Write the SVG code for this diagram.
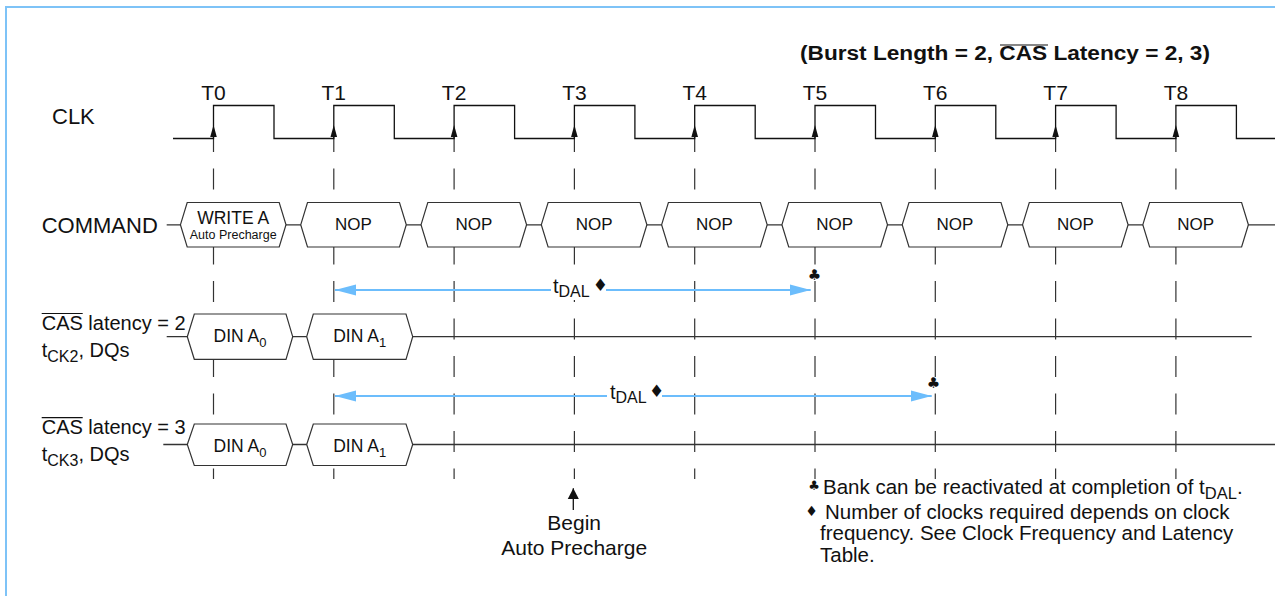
<svg xmlns="http://www.w3.org/2000/svg" width="1275" height="596" viewBox="0 0 1275 596">
<style>
text { font-family: "Liberation Sans", Arial, Helvetica, sans-serif; fill: #111; }
.lbl { font-size: 22px; }
.tl { font-size: 21px; text-anchor: middle; }
.cmd { font-size: 17px; text-anchor: middle; }
.din { font-size: 17.5px; text-anchor: middle; }
.row { font-size: 20px; }
.note { font-size: 20.5px; }
.sym { font-family: "DejaVu Sans", sans-serif; text-anchor: middle; }
.box { fill: #fff; stroke: #333; stroke-width: 1.2; }
.sig { fill: none; stroke: #333; stroke-width: 1.3; }
.clk { fill: none; stroke: #111; stroke-width: 1.3; }
.grid { stroke: #333; stroke-width: 1.2; stroke-dasharray: 21 16.5; }
.blue { fill: none; stroke: #6cbdfc; stroke-width: 2; marker-start: url(#ab); marker-end: url(#ab); }
.ovl { stroke: #111; stroke-width: 1.2; }
.wbg { fill: #fff; }
</style>
<defs>
<marker id="ab" markerUnits="userSpaceOnUse" viewBox="0 0 22 12" markerWidth="22" markerHeight="12" refX="21" refY="6" orient="auto-start-reverse">
<path d="M0,0.5 L21,6 L0,11.5 Z" fill="#6cbdfc"/>
</marker>
<marker id="ak" markerUnits="userSpaceOnUse" viewBox="0 0 12 12" markerWidth="12" markerHeight="12" refX="11" refY="6" orient="auto">
<path d="M0,0.3 L11,6 L0,11.7 Z" fill="#111"/>
</marker>
<path id="ca" d="M0,0 L-3.3,12 L3.3,12 Z" fill="#111"/>
</defs>

<rect id="frame" x="6" y="7" width="1300" height="620" fill="none" stroke="#7ec3f7" stroke-width="2"/>

<g id="title">
<text x="800" y="60" font-size="20" font-weight="bold" textLength="410" lengthAdjust="spacingAndGlyphs">(Burst Length = 2, CAS Latency = 2, 3)</text>
<line class="ovl" x1="1000" y1="45" x2="1048" y2="45" stroke-width="1.6"/>
</g>

<g id="grid">
<line class="grid" x1="213.5" y1="131" x2="213.5" y2="479"/>
<line class="grid" x1="333.8" y1="131" x2="333.8" y2="479"/>
<line class="grid" x1="454.1" y1="131" x2="454.1" y2="479"/>
<line class="grid" x1="574.4" y1="131" x2="574.4" y2="479"/>
<line class="grid" x1="694.7" y1="131" x2="694.7" y2="479"/>
<line class="grid" x1="815" y1="131" x2="815" y2="479"/>
<line class="grid" x1="935.3" y1="131" x2="935.3" y2="479"/>
<line class="grid" x1="1055.6" y1="131" x2="1055.6" y2="479"/>
<line class="grid" x1="1175.9" y1="131" x2="1175.9" y2="479"/>
</g>

<g id="clock">
<text class="lbl" x="52" y="124">CLK</text>
<path class="clk" d="M173,138.5 H213.5 V105.5 H274 V138.5 H333.8 V105.5 H394.3 V138.5 H454.1 V105.5 H514.6 V138.5 H574.4 V105.5 H634.9 V138.5 H694.7 V105.5 H755.2 V138.5 H815 V105.5 H875.5 V138.5 H935.3 V105.5 H995.8 V138.5 H1055.6 V105.5 H1116.1 V138.5 H1175.9 V105.5 H1236.4 V138.5 H1276"/>
<use href="#ca" x="213.5" y="125"/>
<use href="#ca" x="333.8" y="125"/>
<use href="#ca" x="454.1" y="125"/>
<use href="#ca" x="574.4" y="125"/>
<use href="#ca" x="694.7" y="125"/>
<use href="#ca" x="815" y="125"/>
<use href="#ca" x="935.3" y="125"/>
<use href="#ca" x="1055.6" y="125"/>
<use href="#ca" x="1175.9" y="125"/>
<text class="tl" x="213.5" y="99.5">T0</text>
<text class="tl" x="333.8" y="99.5">T1</text>
<text class="tl" x="454.1" y="99.5">T2</text>
<text class="tl" x="574.4" y="99.5">T3</text>
<text class="tl" x="694.7" y="99.5">T4</text>
<text class="tl" x="815" y="99.5">T5</text>
<text class="tl" x="935.3" y="99.5">T6</text>
<text class="tl" x="1055.6" y="99.5">T7</text>
<text class="tl" x="1175.9" y="99.5">T8</text>
</g>

<g id="command">
<text class="lbl" x="41.7" y="233">COMMAND</text>
<line class="sig" x1="166.7" y1="224.8" x2="1276" y2="224.8"/>
<g id="cmd-t0"><polygon class="box" points="180.4,224.8 187.2,202.5 279.2,202.5 286,224.8 279.2,247 187.2,247"/>
<text class="cmd" x="233.2" y="224" style="font-size:17.5px">WRITE A</text><text class="cmd" x="233.2" y="239.3" style="font-size:12.5px">Auto Precharge</text></g>
<g id="cmd-t1"><polygon class="box" points="300.7,224.8 307.5,202.5 399.5,202.5 406.3,224.8 399.5,247 307.5,247"/><text class="cmd" x="353.5" y="230">NOP</text></g>
<g id="cmd-t2"><polygon class="box" points="421,224.8 427.8,202.5 519.8,202.5 526.6,224.8 519.8,247 427.8,247"/><text class="cmd" x="473.8" y="230">NOP</text></g>
<g id="cmd-t3"><polygon class="box" points="541.3,224.8 548.1,202.5 640.1,202.5 646.9,224.8 640.1,247 548.1,247"/><text class="cmd" x="594.1" y="230">NOP</text></g>
<g id="cmd-t4"><polygon class="box" points="661.6,224.8 668.4,202.5 760.4,202.5 767.2,224.8 760.4,247 668.4,247"/><text class="cmd" x="714.4" y="230">NOP</text></g>
<g id="cmd-t5"><polygon class="box" points="781.9,224.8 788.7,202.5 880.7,202.5 887.5,224.8 880.7,247 788.7,247"/><text class="cmd" x="834.7" y="230">NOP</text></g>
<g id="cmd-t6"><polygon class="box" points="902.2,224.8 909,202.5 1001,202.5 1007.8,224.8 1001,247 909,247"/><text class="cmd" x="955" y="230">NOP</text></g>
<g id="cmd-t7"><polygon class="box" points="1022.5,224.8 1029.3,202.5 1121.3,202.5 1128.1,224.8 1121.3,247 1029.3,247"/><text class="cmd" x="1075.3" y="230">NOP</text></g>
<g id="cmd-t8"><polygon class="box" points="1142.8,224.8 1149.6,202.5 1241.6,202.5 1248.4,224.8 1241.6,247 1149.6,247"/><text class="cmd" x="1195.6" y="230">NOP</text></g>
</g>

<g id="dq-cl2">
<text class="row" x="41.7" y="330">CAS latency = 2</text>
<line class="ovl" x1="41.7" y1="313.5" x2="82.7" y2="313.5"/>
<text class="row" x="41.7" y="356.7">t<tspan font-size="16" dy="5">CK2</tspan><tspan dy="-5">, DQs</tspan></text>
<line class="sig" x1="166.7" y1="336.7" x2="1251.7" y2="336.7"/>
<g id="cl2-a0"><polygon class="box" points="187.3,336.7 194.3,314 286,314 292.7,336.7 286,359.3 194.3,359.3"/>
<text class="din" x="240" y="341.7">DIN A<tspan font-size="13" dy="5">0</tspan></text></g>
<g id="cl2-a1"><polygon class="box" points="306.7,336.7 313.3,314 406,314 412.7,336.7 406,359.3 313.3,359.3"/>
<text class="din" x="359.7" y="341.7">DIN A<tspan font-size="13" dy="5">1</tspan></text></g>
</g>

<g id="dq-cl3">
<text class="row" x="41.7" y="434">CAS latency = 3</text>
<line class="ovl" x1="41.7" y1="417.7" x2="82.7" y2="417.7"/>
<text class="row" x="41.7" y="460.5">t<tspan font-size="16" dy="5">CK3</tspan><tspan dy="-5">, DQs</tspan></text>
<line class="sig" x1="163.3" y1="444.5" x2="1276" y2="444.5"/>
<g id="cl3-a0"><polygon class="box" points="187.3,444.5 194.3,424 286,424 292.7,444.5 286,465.5 194.3,465.5"/>
<text class="din" x="240" y="451.5">DIN A<tspan font-size="13" dy="5">0</tspan></text></g>
<g id="cl3-a1"><polygon class="box" points="306.7,444.5 313.3,424 406,424 412.7,444.5 406,465.5 313.3,465.5"/>
<text class="din" x="359.7" y="451.5">DIN A<tspan font-size="13" dy="5">1</tspan></text></g>
</g>

<g id="connectors">
<line class="blue" x1="335" y1="290" x2="810.7" y2="290"/>
<line class="blue" x1="335" y1="396" x2="931.7" y2="396"/>
<line x1="573.3" y1="510" x2="573.3" y2="488.3" stroke="#111" stroke-width="1.3" marker-end="url(#ak)"/>
</g>

<g id="tdal-1">
<rect class="wbg" x="551" y="278" width="55" height="22"/>
<text x="553" y="293.3" font-size="20">t<tspan font-size="16" dy="4">DAL</tspan></text>
<text class="sym" x="600.3" y="291" font-size="17">♦</text>
<text class="sym" x="814.5" y="279.5" font-size="15">♣</text>
</g>
<g id="tdal-2">
<rect class="wbg" x="607" y="384" width="55" height="22"/>
<text x="610" y="399.3" font-size="20">t<tspan font-size="16" dy="4">DAL</tspan></text>
<text class="sym" x="656.7" y="397" font-size="17">♦</text>
<text class="sym" x="933.5" y="387.5" font-size="15">♣</text>
</g>

<g id="begin-note">
<text x="574.2" y="530" font-size="21" text-anchor="middle">Begin</text>
<text x="574.2" y="555" font-size="21" text-anchor="middle">Auto Precharge</text>
</g>

<g id="notes">
<text class="sym" x="814" y="490" font-size="13">♣</text>
<text class="note" x="823" y="494">Bank can be reactivated at completion of t<tspan font-size="16.5" dy="4.5">DAL</tspan><tspan dy="-4.5">.</tspan></text>
<text class="sym" x="811.5" y="515.5" font-size="14">♦</text>
<text class="note" x="825" y="518.5">Number of clocks required depends on clock</text>
<text class="note" x="820" y="540">frequency. See Clock Frequency and Latency</text>
<text class="note" x="820" y="561.5">Table.</text>
</g>
</svg>
